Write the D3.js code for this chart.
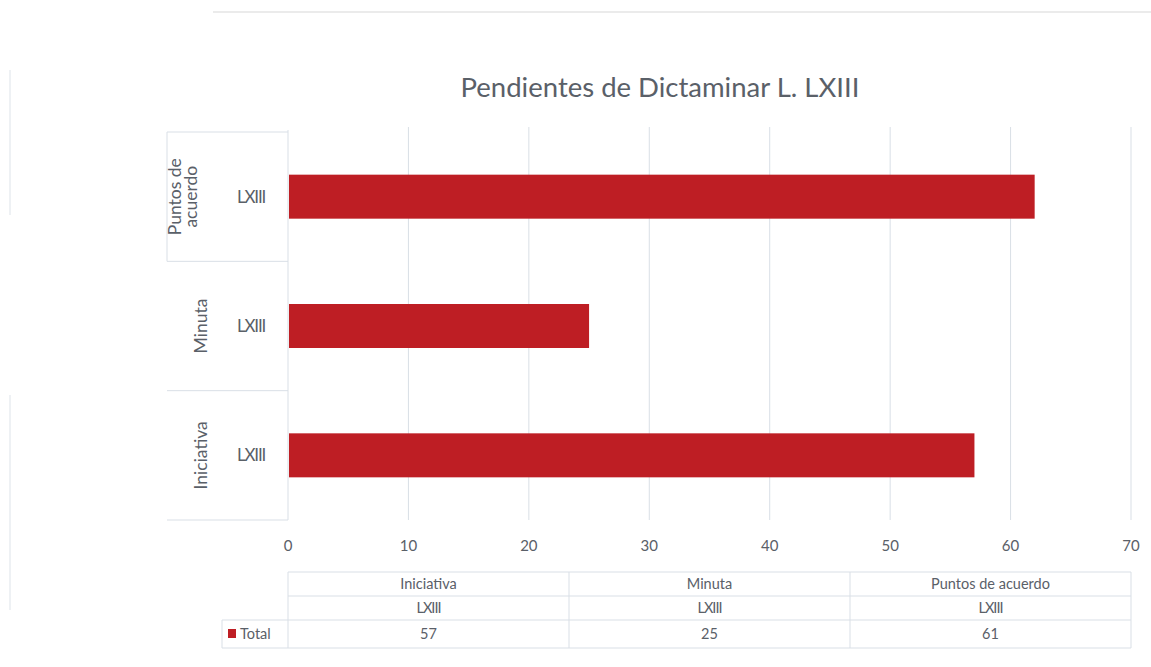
<!DOCTYPE html>
<html>
<head>
<meta charset="utf-8">
<script src="https://cdn.jsdelivr.net/npm/d3@7"></script>
<style>
  body { margin: 0; background: #fff; }
  text { font-family: Lato, "Open Sans", sans-serif; fill: #5a6068; }
</style>
</head>
<body>
<svg id="chart" width="1151" height="667"></svg>
<script>
// data
const categories = ["Iniciativa", "Minuta", "Puntos de acuerdo"];
const subLabels = ["LXIII", "LXIII", "LXIII"];
const values = [57, 25, 62];
const tableTotals = ["57", "25", "61"];
const xTicks = [0, 10, 20, 30, 40, 50, 60, 70];
const seriesName = "Total";

const [width, height] = [1151, 667];
const margin = {left: 288, right: 1131, top: 130, bottom: 520};
const gridCol = "#d9dfe6";
const barCol = "#be1e24";

const svg = d3.select("#chart");

// faint frame pieces of the scanned page
svg.append("line").attr("x1", 213).attr("x2", width).attr("y1", 12).attr("y2", 12)
    .attr("stroke", "#e4e4e4").attr("stroke-width", 1.5);
svg.append("line").attr("x1", 10).attr("x2", 10).attr("y1", 70).attr("y2", 215)
    .attr("stroke", "#eef1f4").attr("stroke-width", 2);
svg.append("line").attr("x1", 10).attr("x2", 10).attr("y1", 395).attr("y2", 610)
    .attr("stroke", "#eef1f4").attr("stroke-width", 2);

svg.append("text")
    .attr("x", 660).attr("y", 97)
    .attr("text-anchor", "middle")
    .attr("font-size", 27.5)
    .text("Pendientes de Dictaminar L. LXIII");

const x = d3.scaleLinear().domain([0, 70]).range([margin.left, margin.right]);
// reversed so the first category sits at the bottom, like Excel
const y = d3.scaleBand().domain(categories.slice().reverse())
    .range([margin.top + 2, margin.bottom]).paddingInner(0).paddingOuter(0);

// gridlines
svg.append("g")
    .selectAll("line")
    .data(xTicks.slice(1))
    .join("line")
    .attr("x1", d => x(d)).attr("x2", d => x(d))
    .attr("y1", margin.top - 3).attr("y2", margin.bottom)
    .attr("stroke", gridCol).attr("stroke-width", 1);

// category axis line and group separators
svg.append("line").attr("x1", margin.left).attr("x2", margin.left)
    .attr("y1", margin.top).attr("y2", margin.bottom)
    .attr("stroke", gridCol);
const seps = [margin.top + 2].concat(categories.map(c => y(c) + y.bandwidth()));
svg.append("g")
    .selectAll("line")
    .data(seps)
    .join("line")
    .attr("x1", 167).attr("x2", margin.left)
    .attr("y1", d => d).attr("y2", d => d)
    .attr("stroke", gridCol);
svg.append("line").attr("x1", 167).attr("x2", 167)
    .attr("y1", margin.top + 2).attr("y2", y("Minuta"))
    .attr("stroke", gridCol);

// bars
const barH = 44;
svg.append("g")
    .selectAll("rect")
    .data(categories)
    .join("rect")
    .attr("x", x(0) + 1)
    .attr("y", d => y(d) + y.bandwidth() / 2 - barH / 2)
    .attr("width", (d, i) => x(values[i]) - x(0) - 1)
    .attr("height", barH)
    .attr("fill", barCol);

// sub labels
svg.append("g")
    .selectAll("text")
    .data(categories)
    .join("text")
    .attr("x", 251).attr("y", d => y(d) + y.bandwidth() / 2 + 6)
    .attr("text-anchor", "middle")
    .attr("font-size", 17)
    .attr("letter-spacing", -1.2)
    .text((d, i) => subLabels[i]);

// rotated group labels
const grp = svg.append("g")
    .selectAll("g")
    .data(categories)
    .join("g")
    .attr("transform", d => `translate(${d === "Puntos de acuerdo" ? 183 : 201},${y(d) + y.bandwidth() / 2}) rotate(-90)`);
grp.each(function(d) {
    const words = d === "Puntos de acuerdo" ? ["Puntos de", "acuerdo"] : [d];
    d3.select(this).selectAll("text")
        .data(words)
        .join("text")
        .attr("x", 0)
        .attr("y", (w, i) => (i - (words.length - 1) / 2) * 16 + 6)
        .attr("text-anchor", "middle")
        .attr("font-size", 17.5)
        .text(w => w);
});

// x axis tick labels
svg.append("g")
    .selectAll("text")
    .data(xTicks)
    .join("text")
    .attr("x", d => x(d)).attr("y", 551)
    .attr("text-anchor", "middle")
    .attr("font-size", 15)
    .text(d => d);

// data table
const colW = (margin.right - margin.left) / categories.length;
const rows = [572, 596, 620, 648];
const tbl = svg.append("g");
rows.forEach((ry, i) => {
    tbl.append("line")
        .attr("x1", i >= 2 ? 222 : margin.left).attr("x2", margin.right)
        .attr("y1", ry).attr("y2", ry)
        .attr("stroke", gridCol);
});
d3.range(categories.length + 1).forEach(i => {
    tbl.append("line")
        .attr("x1", margin.left + i * colW).attr("x2", margin.left + i * colW)
        .attr("y1", rows[0]).attr("y2", rows[3])
        .attr("stroke", gridCol);
});
tbl.append("line").attr("x1", 222).attr("x2", 222)
    .attr("y1", rows[2]).attr("y2", rows[3]).attr("stroke", gridCol);

const rowTexts = [categories, subLabels, tableTotals];
rowTexts.forEach((arr, r) => {
    tbl.selectAll(null)
        .data(arr)
        .join("text")
        .attr("x", (d, i) => margin.left + colW * (i + 0.5))
        .attr("y", (rows[r] + rows[r + 1]) / 2 + 5)
        .attr("text-anchor", "middle")
        .attr("font-size", 14.5)
        .attr("letter-spacing", r === 1 ? -1 : 0)
        .text(d => d);
});
tbl.append("rect").attr("x", 228).attr("y", 629).attr("width", 8).attr("height", 9)
    .attr("fill", barCol);
tbl.append("text").attr("x", 240).attr("y", 639).attr("font-size", 14.5).text(seriesName);
</script>
</body>
</html>
